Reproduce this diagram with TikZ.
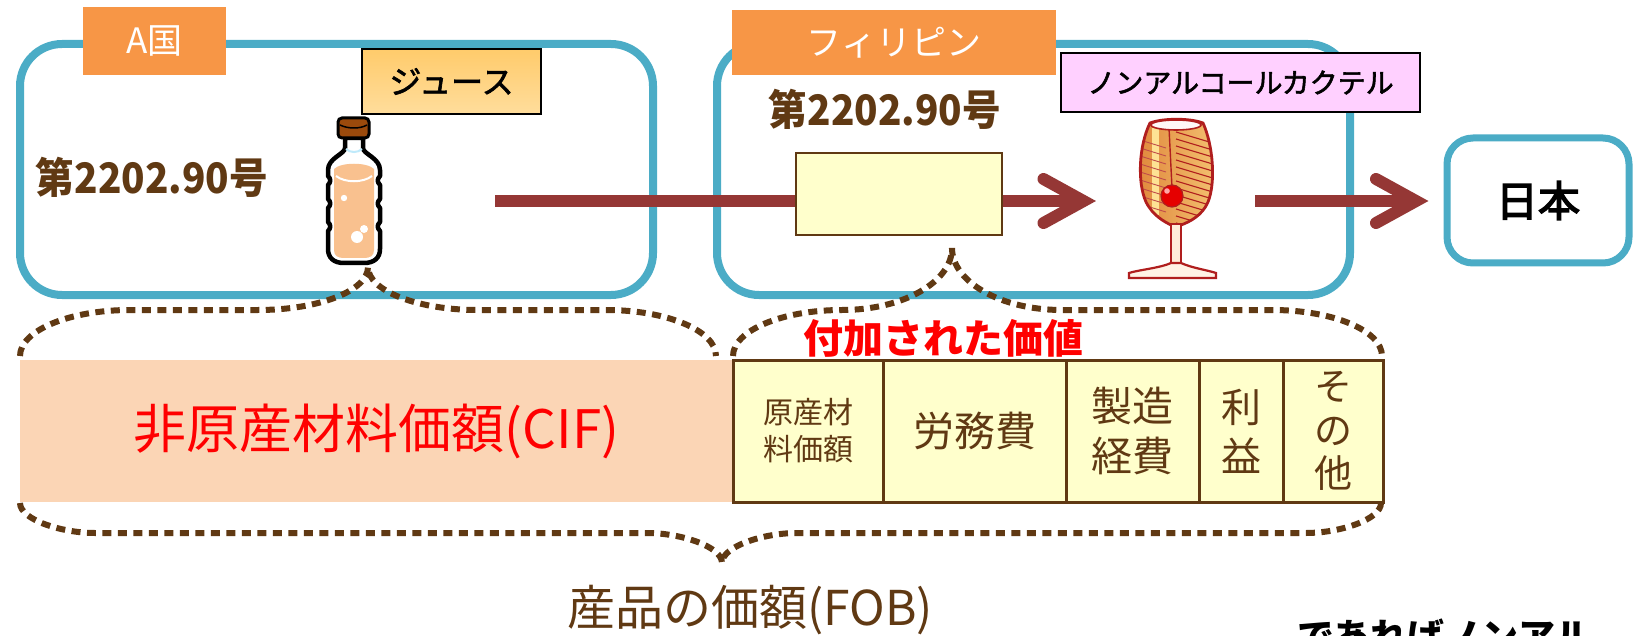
\documentclass[tikz,border=0pt]{standalone}
\usepackage{fontspec}
\newfontfamily\jp{Noto Sans CJK JP}
\newfontfamily\jpm[FakeBold=2]{Noto Sans CJK JP}
\newfontfamily\jpb[FakeBold=3.5]{Noto Sans CJK JP}
\newfontfamily\jpc[FakeStretch=0.92]{Noto Sans CJK JP}
\newcommand{\fs}[2]{\fontsize{#1}{#2}\selectfont}

\definecolor{boxblue}{HTML}{4BACC6}
\definecolor{tagorange}{HTML}{F79646}
\definecolor{arrowred}{HTML}{953735}
\definecolor{brn}{HTML}{603913}
\definecolor{salmon}{HTML}{FBD5B5}
\definecolor{cream}{HTML}{FFFFCC}
\definecolor{pinkbg}{HTML}{FFD0FF}
\definecolor{juicetop}{HTML}{FFCB6B}
\definecolor{juicebot}{HTML}{FFDD9C}
\definecolor{liquid}{HTML}{F9C18F}
\definecolor{capbrown}{HTML}{9B4A0C}
\definecolor{glassred}{HTML}{B01E1E}
\definecolor{goldL}{HTML}{E0883C}
\definecolor{goldR}{HTML}{F3C070}

\tikzset{
  country/.style={draw=boxblue, line width=8pt, rounded corners=42pt, fill=white, inner sep=0pt},
  tag/.style={fill=tagorange, text=white, inner sep=0pt, font=\jp\fs{35}{40}},
  prodbox/.style={draw=black, line width=1.8pt, inner sep=0pt},
  hs/.style={text=brn, inner sep=0pt, font=\jpc\bfseries\fs{42}{46}},
  cell/.style={draw=brn, line width=3pt, fill=cream, minimum height=142pt, inner sep=0pt, text=brn, align=center},
  flow/.style={arrowred, line width=12pt},
  chev/.style={arrowred, line width=12pt, line cap=round, line join=miter, miter limit=10},
  brace/.style={brn, line width=6pt, dash pattern=on 9pt off 6.5pt},
}

% outline of the cocktail glass bowl
\def\bowl{(1150,123) .. controls (1139,145) and (1137,182) .. (1146,202) .. controls (1153,216) and (1165,222) .. (1171,225) -- (1181,225) .. controls (1189,222) and (1202,216) .. (1208,202) .. controls (1216,182) and (1213,145) .. (1203,123) .. controls (1190,118) and (1163,118) .. cycle}

\begin{document}
\begin{tikzpicture}[x=1pt,y=-1pt]
\useasboundingbox (0,0) rectangle (1635,636);

% country frames
\node[country, minimum width=633pt, minimum height=251pt] (ctryA) at (336.5,169.5) {};
\node[country, minimum width=633pt, minimum height=251pt] (ctryP) at (1033.5,169.5) {};
\node[country, line width=7pt, rounded corners=26pt, minimum width=182pt, minimum height=125pt,
      font=\jpb\fs{42}{46}] (japan) at (1538,200.5) {日本};

% country tags
\node[tag, minimum width=143pt, minimum height=68pt] (tagA) at (154.5,41) {A国};
\node[tag, minimum width=324pt, minimum height=65pt] (tagP) at (894,42.5) {フィリピン};

% product labels
\node[prodbox, top color=juicetop, bottom color=juicebot, minimum width=179pt, minimum height=65pt,
      font=\jpm\fs{32}{36}] (juice) at (451.5,81.5) {ジュース};
\node[prodbox, fill=pinkbg, minimum width=359pt, minimum height=59pt,
      font=\jpm\fs{28}{32}] (cocktail) at (1240.5,82.5) {ノンアルコールカクテル};

% tariff headings
\node[hs] (hsA) at (152,177) {第2202.90号};
\node[hs] (hsP) at (885,109) {第2202.90号};

% processing box
\node[draw=brn, line width=2pt, fill=cream, minimum width=206pt, minimum height=82pt, inner sep=0pt] (proc) at (899,194) {};

% bottle
\draw[line width=4.5pt, fill=white, line join=round]
  (345,138) -- (345,148) .. controls (345,154) and (328,158) .. (328,170)
  -- (328,176) .. controls (331,179) and (331,182) .. (328,185)
  -- (328,199) .. controls (331,202) and (331,205) .. (328,208)
  -- (328,222) .. controls (331,225) and (331,228) .. (328,231)
  -- (328,249) .. controls (328,258) and (334,263) .. (344,263)
  -- (364,263) .. controls (374,263) and (380,258) .. (380,249)
  -- (380,231) .. controls (377,228) and (377,225) .. (380,222)
  -- (380,208) .. controls (377,205) and (377,202) .. (380,199)
  -- (380,185) .. controls (377,182) and (377,179) .. (380,176)
  -- (380,170) .. controls (380,158) and (363,154) .. (363,148)
  -- (363,138) -- cycle;
\fill[liquid] (334,169) .. controls (341,162) and (367,162) .. (374,169)
  -- (374,250) .. controls (374,256) and (370,258) .. (364,258)
  -- (344,258) .. controls (338,258) and (334,256) .. (334,250) -- cycle;
\draw[white, line width=2pt] (336,176) .. controls (345,183) and (363,183) .. (372,176);
\draw[cyan!25, line width=2pt] (346,149) .. controls (350,153) and (358,153) .. (362,149);
\fill[white] (344,198) circle (3.2) (357,237) circle (6) (364,229) circle (4);
\draw[line width=3pt, fill=capbrown, rounded corners=4pt] (338,118) rectangle (369,138);
\draw[line width=1.5pt] (340,125) .. controls (348,129) and (360,129) .. (367,125);

% cocktail glass
\fill[left color=goldL, right color=goldR] \bowl;
\begin{scope}
  \clip \bowl;
  \fill[yellow!50!orange!40] (1152,128) rectangle (1159,215);
  \foreach \k in {0,...,13}
    \draw[glassred, line width=1.1pt] (1176,132+7*\k) -- (1216,144+7*\k);
  \foreach \k in {0,...,8}
    \draw[glassred!80, line width=0.9pt] (1140,140+8*\k) -- (1166,148+8*\k);
  \draw[glassred, line width=1.4pt] (1169,128) -- (1172,188);
\end{scope}
\draw[glassred, line width=2.8pt] \bowl;
\draw[glassred, line width=1.6pt, fill=white!88!pink] (1176,125) ellipse [x radius=25, y radius=5];
\draw[glassred, line width=1.2pt, fill=red!90!black] (1172,196) circle (11);
\fill[white!65!red] (1167,191) circle (2.8);
\draw[glassred, line width=2pt, fill=white!85!orange] (1171,224) rectangle (1181,266);
\draw[glassred, line width=2.2pt, fill=white!90!orange]
  (1171,263) .. controls (1160,268) and (1138,270) .. (1129,273) -- (1129,278)
  -- (1216,278) -- (1216,273) .. controls (1207,270) and (1192,268) .. (1181,263) -- cycle;

% flow arrows
\coordinate (startA) at (495,201);
\coordinate (tipB) at (1083.5,201);
\coordinate (startC) at (1255,201);
\coordinate (tipC) at (1416,201);
\draw[flow] (startA) -- (proc.west |- startA);
\draw[flow] (proc.east |- startA) -- (tipB);
\draw[chev] ([shift={(-40,-22)}]tipB) -- (tipB) -- ([shift={(-40,22)}]tipB);
\draw[flow] (startC) -- (tipC);
\draw[chev] ([shift={(-40,-22)}]tipC) -- (tipC) -- ([shift={(-40,22)}]tipC);

% value breakdown
\node[fill=salmon, minimum width=713pt, minimum height=142pt, inner sep=0pt, text=red,
      font=\jp\fs{53}{56}] (nonorig) at (376.5,431) {非原産材料価額(CIF)};
\node[cell, minimum width=150pt, font=\jp\fs{30}{37}] (c1) at (808,431) {原産材\\料価額};
\node[cell, minimum width=183pt, font=\jp\fs{41}{50}] (c2) at (974.5,431) {労務費};
\node[cell, minimum width=133pt, font=\jp\fs{41}{50}] (c3) at (1132.5,431) {製造\\経費};
\node[cell, minimum width=84pt, font=\jp\fs{40}{49}] (c4) at (1241,431) {利\\益};
\node[cell, minimum width=100pt, font=\jp\fs{38}{43.5}] (c5) at (1333,431) {そ\\の\\他};

\node[text=red, inner sep=0pt, font=\jp\bfseries\fs{40}{44}] (added) at (943,338) {付加された価値};
\node[text=brn, inner sep=0pt, font=\jp\fs{48}{52}] (fob) at (750,610) {産品の価額(FOB)};
\node[anchor=base west, inner sep=0pt, font=\jp\bfseries\fs{37}{40}] (tail) at (1297,650) {であればノンアル};

% dotted braces
\draw[brace] (20,356) .. controls (20,330.6) and (69.2,310) .. (130,310) -- (258,310)
  .. controls (318.8,310) and (368,290.7) .. (368,267)
  .. controls (368,290.7) and (417.2,310) .. (478,310) -- (606,310)
  .. controls (666.8,310) and (716,330.6) .. (716,356);
\draw[brace] (733,356) .. controls (733,330.6) and (782,310) .. (842,310)
  .. controls (903,310) and (952,282) .. (952,248)
  .. controls (952,282) and (1001,310) .. (1062,310) -- (1272,310)
  .. controls (1333,310) and (1382,330.6) .. (1382,356);
\draw[brace] (20,503) .. controls (20,519.6) and (61.4,533) .. (95,533) -- (647,533)
  .. controls (680.6,533) and (722,546.4) .. (722,563)
  .. controls (722,546.4) and (763.4,533) .. (797,533) -- (1306,533)
  .. controls (1339.6,533) and (1381,519.6) .. (1381,503);
\end{tikzpicture}
\end{document}
